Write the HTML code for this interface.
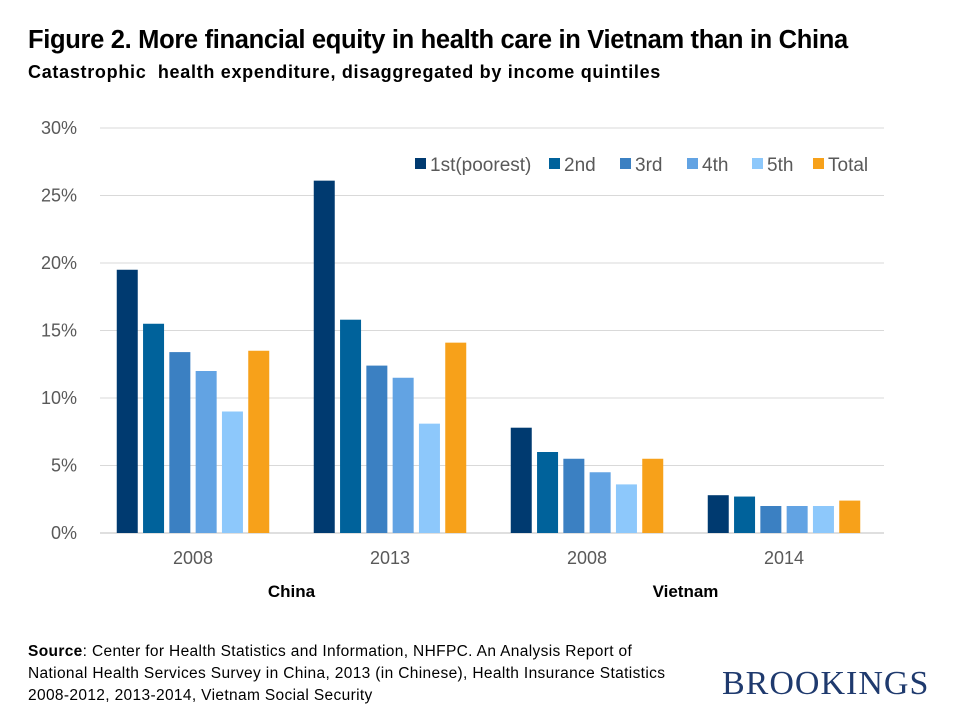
<!DOCTYPE html>
<html><head><meta charset="utf-8"><style>
body{margin:0;background:#fff;font-family:"Liberation Sans",sans-serif;}
#wrap{position:relative;width:960px;height:720px;overflow:hidden;}
.t{position:absolute;white-space:nowrap;}
</style></head><body>
<div id="wrap">
<div class="t" style="left:28px;top:26px;font-size:25.5px;font-weight:bold;color:#000;letter-spacing:-0.32px;">Figure 2. More financial equity in health care in Vietnam than in China</div>
<div class="t" style="left:28px;top:62px;font-size:18px;font-weight:bold;color:#000;letter-spacing:0.7px;">Catastrophic&nbsp; health expenditure, disaggregated by income quintiles</div>
<svg id="chart" width="960" height="720" style="position:absolute;left:0;top:0"></svg>
<div class="t" style="left:28px;top:641px;font-size:15.5px;line-height:22px;color:#000;letter-spacing:0.35px;"><b>Source</b>: Center for Health Statistics and Information, NHFPC. An Analysis Report of<br>National Health Services Survey in China, 2013 (in Chinese), Health Insurance Statistics<br>2008-2012, 2013-2014, Vietnam Social Security</div>
<div class="t" style="left:722px;top:665px;font-family:'Liberation Serif',serif;font-size:34px;color:#1f3a6e;letter-spacing:1px;">BROOKINGS</div>
</div>
<script>
const categories=["2008","2013","2008","2014"];
const countries=["China","Vietnam"];
const seriesNames=["1st(poorest)","2nd","3rd","4th","5th","Total"];
const s1=[19.5,26.1,7.8,2.8];
const s2=[15.5,15.8,6.0,2.7];
const s3=[13.4,12.4,5.5,2.0];
const s4=[12.0,11.5,4.5,2.0];
const s5=[9.0,8.1,3.6,2.0];
const sTotal=[13.5,14.1,5.5,2.4];
const yTicks=[0,5,10,15,20,25,30];
const colors=["#003a70","#00629b","#3b80c2","#62a3e3","#8dc8fb","#f7a11a"];
const series=[s1,s2,s3,s4,s5,sTotal];
const NS="http://www.w3.org/2000/svg";
const svg=document.getElementById('chart');
const x0=100,x1=884,yb=533,yt=128;
const y=v=>yb-(v/30)*(yb-yt);
const gw=197;
const xc=i=>94.5+gw*(i+0.5);
function mk(tag,attrs){const e=document.createElementNS(NS,tag);for(const k in attrs)e.setAttribute(k,attrs[k]);svg.appendChild(e);return e;}
yTicks.forEach(t=>{
  const l=mk('line',{x1:x0,x2:x1,y1:y(t),y2:y(t),stroke:t===0?'#bfbfbf':'#d9d9d9','stroke-width':1});
  
  
  const tx=mk('text',{x:77,y:y(t)+6,'text-anchor':'end','font-size':18,fill:'#595959','font-family':'Liberation Sans'});
  tx.textContent=t+'%';
  
  
});
const pitch=26.3,bw=21;
categories.forEach((c,i)=>{
  series.forEach((s,j)=>{
    const bx=xc(i)+(j-2.5)*pitch-bw/2;
    const r=mk('rect',{x:bx,y:y(s[i]),width:bw,height:yb-y(s[i]),fill:colors[j]});
    
    
  });
  const tx=mk('text',{x:xc(i),y:564,'text-anchor':'middle','font-size':18,fill:'#595959','font-family':'Liberation Sans'});
  tx.textContent=c;
  
  
});
countries.forEach((c,k)=>{
  const tx=mk('text',{x:(xc(2*k)+xc(2*k+1))/2,y:597,'text-anchor':'middle','font-size':17,'font-weight':'bold',fill:'#000','font-family':'Liberation Sans'});
  tx.textContent=c;
  
  
});
const lx=[415,549,620,687,752,813];
seriesNames.forEach((n,j)=>{
  const r=mk('rect',{x:lx[j],y:158,width:11,height:11,fill:colors[j]});
  
  
  const tx=mk('text',{x:lx[j]+15,y:171,'font-size':19,fill:'#595959','font-family':'Liberation Sans'});
  tx.textContent=n;
  
  
});
</script>
</body></html>
